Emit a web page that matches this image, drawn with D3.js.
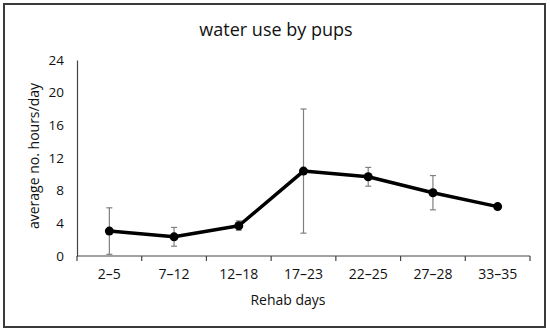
<!DOCTYPE html>
<html>
<head>
<meta charset="utf-8">
<script src="https://cdn.jsdelivr.net/npm/d3@7"></script>
<style>
  body { margin: 0; background: #fff; }
  text { font-family: "Open Sans", sans-serif; fill: #111; }
</style>
</head>
<body>
<svg id="chart"></svg>
<script>
const width = 550, height = 333;

// data
const categories = ["2–5", "7–12", "12–18", "17–23", "22–25", "27–28", "33–35"];
const means = [3.05, 2.35, 3.7, 10.4, 9.7, 7.75, 6.05];
const errLow = [0.2, 1.2, 3.15, 2.8, 8.55, 5.65, 6.05];
const errHigh = [5.9, 3.5, 4.3, 18.0, 10.85, 9.85, 6.05];
const yTicks = [0, 4, 8, 12, 16, 20, 24];

const svg = d3.select("#chart")
    .attr("width", width)
    .attr("height", height);

// outer frame
svg.append("rect")
    .attr("x", 4).attr("y", 4)
    .attr("width", 541).attr("height", 323)
    .attr("fill", "none")
    .attr("stroke", "#3a3a3a")
    .attr("stroke-width", 2);

const x = d3.scaleBand()
    .domain(categories)
    .range([77, 530]);

const y = d3.scaleLinear()
    .domain([0, 24])
    .range([256, 60]);

// title
svg.append("text")
    .attr("x", 276).attr("y", 36)
    .attr("text-anchor", "middle")
    .attr("font-size", "18px")
    .text("water use by pups");

// y axis: line only, no tick marks
const yAxis = svg.append("g")
    .attr("transform", `translate(${x.range()[0]},0)`)
    .call(d3.axisLeft(y).tickValues(yTicks).tickSize(0).tickPadding(13));
yAxis.select(".domain").attr("stroke", "#444").attr("stroke-width", 1.2);
yAxis.selectAll("text").attr("font-size", "13.5px").attr("font-family", "Open Sans").attr("fill", "#111");

// x axis with ticks at category boundaries
const xAxisG = svg.append("g")
    .attr("transform", `translate(0,${y(0)})`);
xAxisG.append("line")
    .attr("x1", x.range()[0]).attr("x2", x.range()[1])
    .attr("stroke", "#444").attr("stroke-width", 1.2);
const boundaries = categories.map(c => x(c)).concat([x.range()[1]]);
xAxisG.selectAll("line.tick")
    .data(boundaries)
    .join("line")
    .attr("class", "tick")
    .attr("x1", d => d).attr("x2", d => d)
    .attr("y1", 0).attr("y2", 5)
    .attr("stroke", "#444").attr("stroke-width", 1.2);
xAxisG.selectAll("text")
    .data(categories)
    .join("text")
    .attr("x", d => x(d) + x.bandwidth() / 2)
    .attr("y", 23)
    .attr("text-anchor", "middle")
    .attr("font-size", "14px")
    .text(d => d);

// axis titles
svg.append("text")
    .attr("x", 288).attr("y", 305)
    .attr("text-anchor", "middle")
    .attr("font-size", "14px")
    .text("Rehab days");

svg.append("text")
    .attr("transform", "translate(39,156) rotate(-90)")
    .attr("text-anchor", "middle")
    .attr("font-size", "14px")
    .text("average no. hours/day");

const cx = i => x(categories[i]) + x.bandwidth() / 2;

// error bars
const eb = svg.append("g").attr("stroke", "#808080").attr("stroke-width", 1.2);
categories.forEach((c, i) => {
    if (errHigh[i] - errLow[i] < 0.01) return;
    eb.append("line")
        .attr("x1", cx(i)).attr("x2", cx(i))
        .attr("y1", y(errLow[i])).attr("y2", y(errHigh[i]));
    [errLow[i], errHigh[i]].forEach(v => {
        eb.append("line")
            .attr("x1", cx(i) - 3).attr("x2", cx(i) + 3)
            .attr("y1", y(v)).attr("y2", y(v));
    });
});

// line and markers
const line = d3.line()
    .x((d, i) => cx(i))
    .y(d => y(d));

svg.append("path")
    .datum(means)
    .attr("d", line)
    .attr("fill", "none")
    .attr("stroke", "#000")
    .attr("stroke-width", 3.5)
    .attr("stroke-linejoin", "round");

svg.selectAll("circle.pt")
    .data(means)
    .join("circle")
    .attr("class", "pt")
    .attr("cx", (d, i) => cx(i))
    .attr("cy", d => y(d))
    .attr("r", 4.5)
    .attr("fill", "#000");
</script>
</body>
</html>
